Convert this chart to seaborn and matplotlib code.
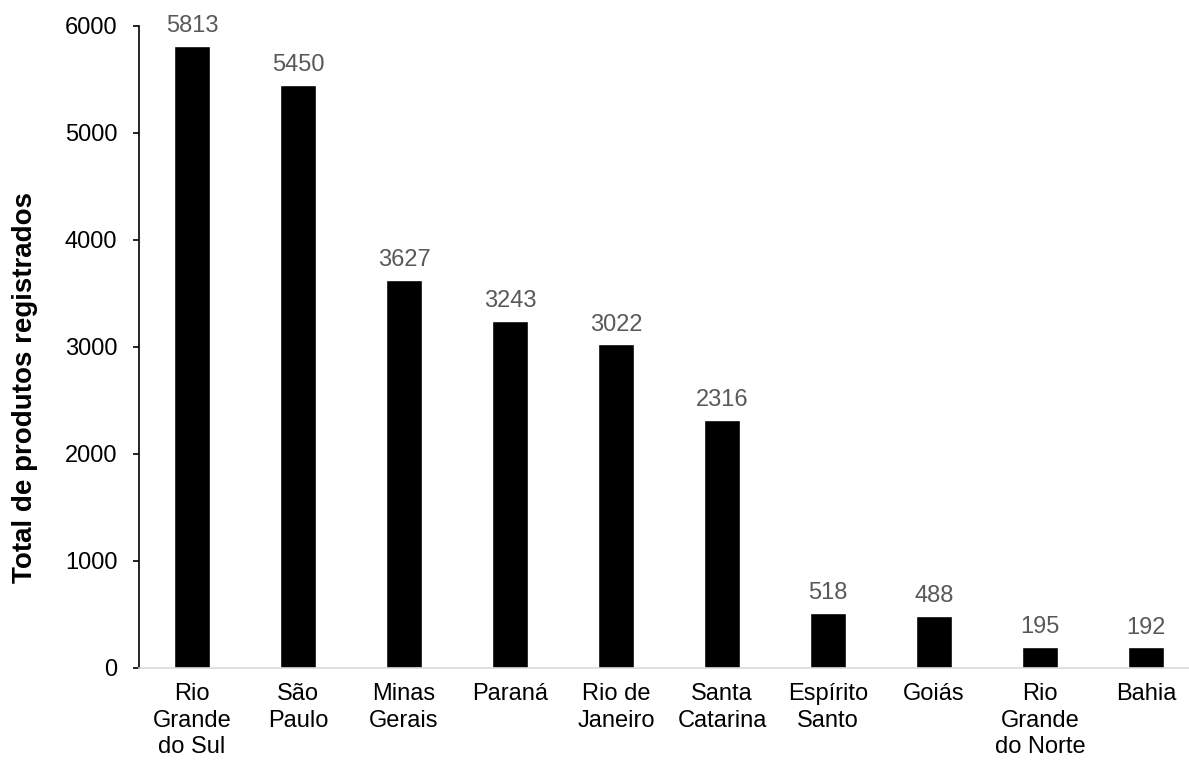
import matplotlib
matplotlib.use("Agg")
import matplotlib.pyplot as plt
import seaborn as sns
import pandas as pd

# Registered products per Brazilian state
states = ["Rio\nGrande\ndo Sul", "São\nPaulo", "Minas\nGerais", "Paraná", "Rio de\nJaneiro",
          "Santa\nCatarina", "Espírito\nSanto", "Goiás", "Rio\nGrande\ndo Norte", "Bahia"]
totals = [5813, 5450, 3627, 3243, 3022, 2316, 518, 488, 195, 192]
y_ticks = [0, 1000, 2000, 3000, 4000, 5000, 6000]

df = pd.DataFrame({"estado": states, "total": totals})

sns.set_theme(style="white")
plt.rcParams["font.family"] = ["Liberation Sans", "DejaVu Sans"]

W, H = 1189, 762
fig = plt.figure(figsize=(W / 100, H / 100), dpi=100)
left, right, top, bottom = 139, 1189, 25.7, 668
ax = fig.add_axes([left / W, (H - bottom) / H, (right - left) / W, (bottom - top) / H])

sns.barplot(data=df, x="estado", y="total", color="black", saturation=1,
            width=0.34, ax=ax)

ax.set_xlim(-0.5, -0.5 + (right - left) / 106)
ax.set_ylim(0, 6000)
ax.set_yticks(y_ticks)
ax.set_yticklabels([str(v) for v in y_ticks])

for i, v in enumerate(totals):
    ax.annotate(str(v), (i, v), xytext=(0, 6.3), textcoords="offset points",
                ha="center", va="bottom", fontsize=17, color="#595959")

for s in ["top", "right"]:
    ax.spines[s].set_visible(False)
ax.spines["left"].set_color("black")
ax.spines["left"].set_linewidth(1.2)
ax.spines["bottom"].set_color("#d9d9d9")
ax.spines["bottom"].set_linewidth(1.2)

ax.tick_params(axis="y", which="major", left=True, length=4.5, width=1.2,
               color="black", labelsize=17, labelcolor="black", pad=11)
ax.tick_params(axis="x", which="major", bottom=False, length=0, labelsize=17,
               labelcolor="black", pad=11)
for lbl in ax.get_xticklabels():
    lbl.set_linespacing(1.25)

ax.set_xlabel("")
ax.set_ylabel("Total de produtos registrados", fontsize=20, fontweight="bold",
              color="black")
ax.yaxis.set_label_coords(-0.0965, 0.437)

fig.savefig("out.png", dpi=100)
